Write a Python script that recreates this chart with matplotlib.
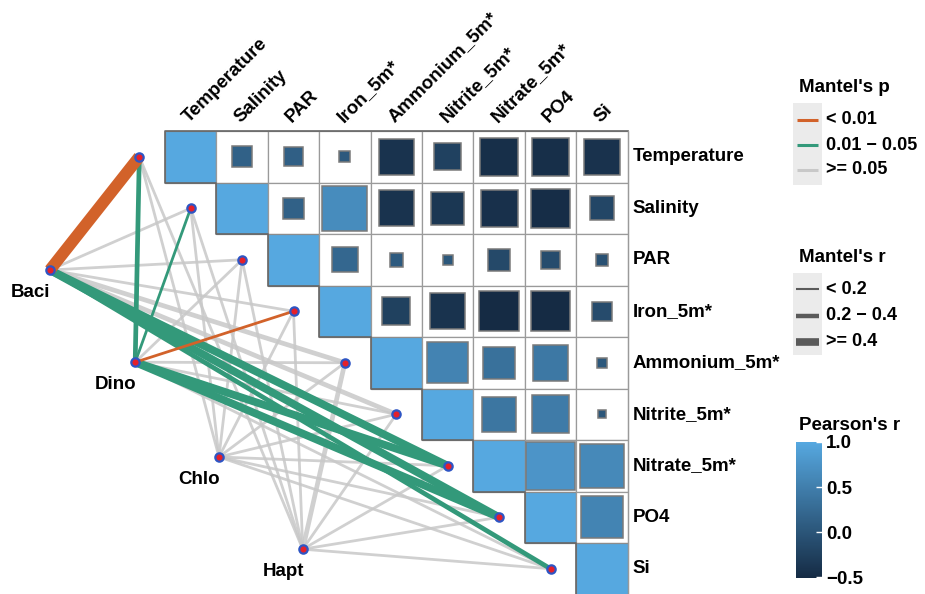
import numpy as np
import matplotlib
matplotlib.use('Agg')
import matplotlib.pyplot as plt
from matplotlib.patches import Rectangle
from matplotlib.colors import LinearSegmentedColormap, Normalize
from matplotlib.cm import ScalarMappable

plt.rcParams['font.family'] = ['Liberation Sans', 'DejaVu Sans']
plt.rcParams['font.weight'] = 'bold'

# 환경변수 / 분류군
env = ['Temperature', 'Salinity', 'PAR', 'Iron_5m*', 'Ammonium_5m*',
       'Nitrite_5m*', 'Nitrate_5m*', 'PO4', 'Si']
spec = ['Baci', 'Dino', 'Chlo', 'Hapt']

# Pearson's r (대각선 오른쪽 상삼각만)
r_temp = [0.14, 0.12, 0.04, -0.41, -0.24, -0.46, -0.46, -0.42]
r_sal = [0.14, 0.66, -0.41, -0.36, -0.44, -0.48, -0.18]
r_par = [0.21, 0.06, 0.03, -0.15, -0.11, -0.05]
r_iron = [-0.25, -0.41, -0.51, -0.51, -0.12]
r_amm = [0.55, 0.33, 0.42, 0.03]
r_nitrite = [0.39, 0.46, 0.02]
r_nitrate = [0.76, 0.62]
r_po4 = [0.56]

# Mantel p 구간 (0: <0.01, 1: 0.01-0.05, 2: >=0.05), Mantel r 구간 (0: <0.2, 1: 0.2-0.4, 2: >=0.4)
baci_p = [0, 2, 2, 2, 2, 2, 1, 1, 1]
baci_r = [2, 0, 0, 0, 1, 1, 2, 2, 1]
dino_p = [1, 1, 2, 0, 2, 2, 1, 1, 2]
dino_r = [1, 0, 0, 0, 0, 0, 2, 2, 0]
chlo_p = [2, 2, 2, 2, 2, 2, 2, 2, 2]
chlo_r = [0, 0, 0, 0, 0, 0, 0, 0, 0]
hapt_p = [2, 2, 2, 2, 2, 2, 2, 2, 2]
hapt_r = [0, 0, 0, 0, 1, 0, 0, 0, 0]

p_labels = ['< 0.01', '0.01 \u2212 0.05', '>= 0.05']
r_labels = ['< 0.2', '0.2 \u2212 0.4', '>= 0.4']
p_colors = ['#D2622A', '#33997A', '#C8C8C8']
r_widths = [2.0, 3.4, 5.6]

upper = [r_temp, r_sal, r_par, r_iron, r_amm, r_nitrite, r_nitrate, r_po4]
mantel_p = [baci_p, dino_p, chlo_p, hapt_p]
mantel_r = [baci_r, dino_r, chlo_r, hapt_r]

# 분류군 노드 위치 (셀 단위)
spec_x = [-2.24, -0.58, 1.05, 2.68]
spec_y = [2.70, 4.49, 6.33, 8.12]

cmap = LinearSegmentedColormap.from_list('gg', ['#152B44', '#56A8E0'])
norm = Normalize(vmin=-0.51, vmax=1.0)

W, H = 925, 594
cw, ch = 51.4, 51.5
x0, y0 = 165, 131

fig = plt.figure(figsize=(W / 100, H / 100), dpi=100)
ax = fig.add_axes([0, 0, 1, 1])
ax.set_xlim(-x0 / cw, (W - x0) / cw)
ax.set_ylim((H - y0) / ch, -y0 / ch)
ax.axis('off')

n = len(env)

# 셀 + 사각형
for i in range(n):
    for j in range(i, n):
        if i == j:
            ax.add_patch(Rectangle((j, i), 1, 1, facecolor=cmap(norm(1.0)),
                                   edgecolor='#8c8c8c', lw=0.9, zorder=2))
        else:
            ax.add_patch(Rectangle((j, i), 1, 1, facecolor='white',
                                   edgecolor='#9a9a9a', lw=0.9, zorder=2))
            r = upper[i][j - i - 1]
            s = min(1.0, 1.08 * np.sqrt(abs(r)))
            ax.add_patch(Rectangle((j + 0.5 - s / 2, i + 0.5 - s / 2), s, s,
                                   facecolor=cmap(norm(r)), edgecolor='#7a7a7a',
                                   lw=1.1, zorder=3))

# 계단 모양 외곽선
stx, sty = [n], [0]
stx.append(0); sty.append(0)
for i in range(n):
    stx += [i, i + 1]
    sty += [i + 1, i + 1]
ax.plot(stx, sty, color='#666666', lw=1.2, zorder=4, solid_capstyle='projecting')
ax.plot([n, n], [0, n], color='#9a9a9a', lw=0.9, zorder=4)

# 행 라벨 / 열 라벨
for i, name in enumerate(env):
    ax.text(n + 0.1, i + 0.5, name, fontsize=13.5, fontweight='bold',
            ha='left', va='center')
    ax.text(i + 0.52, -0.1, name, fontsize=13.5, fontweight='bold', rotation=45,
            rotation_mode='anchor', ha='left', va='bottom')

# Mantel 연결선
env_x = [i - 0.5 for i in range(n)]
env_y = [i + 0.5 for i in range(n)]
for level in [2, 1, 0]:
    for k in range(len(spec)):
        for i in range(n):
            if mantel_p[k][i] != level:
                continue
            lw = r_widths[mantel_r[k][i]]
            if level == 0 and mantel_r[k][i] == 2:
                lw = 8.5
            ax.plot([spec_x[k], env_x[i]], [spec_y[k], env_y[i]],
                    color=p_colors[level], lw=lw,
                    alpha=0.85 if level == 2 else 1.0,
                    solid_capstyle='butt', zorder=5)

ax.plot(env_x, env_y, 'o', ms=6, mfc='#E5202A', mec='#2E55C4', mew=1.6,
        ls='none', zorder=6)
ax.plot(spec_x, spec_y, 'o', ms=6, mfc='#E5202A', mec='#2E55C4', mew=1.6,
        ls='none', zorder=6)
for k, name in enumerate(spec):
    ax.text(spec_x[k] - 0.38, spec_y[k] + 0.44, name, fontsize=13.5,
            fontweight='bold', ha='center', va='center', zorder=7)

# 범례 (픽셀 좌표)
lg = fig.add_axes([0, 0, 1, 1])
lg.set_xlim(0, W)
lg.set_ylim(H, 0)
lg.axis('off')
lg.patch.set_alpha(0)

lg.text(799, 87, "Mantel's p", fontsize=13.5, fontweight='bold', ha='left', va='center')
lg.add_patch(Rectangle((793, 103), 29, 82, facecolor='#EBEBEB', edgecolor='none'))
for k, yy in enumerate([120, 145, 170]):
    lg.plot([797, 818], [yy, yy], color=p_colors[k], lw=2.2, solid_capstyle='butt')
    lg.text(826, yy, p_labels[k], fontsize=13, fontweight='bold', ha='left', va='center')

lg.text(799, 257, "Mantel's r", fontsize=13.5, fontweight='bold', ha='left', va='center')
lg.add_patch(Rectangle((793, 273), 29, 82, facecolor='#EBEBEB', edgecolor='none'))
for k, yy in enumerate([289, 316, 342]):
    lg.plot([796, 819], [yy, yy], color='#5a5a5a', lw=[1.5, 3.2, 5.5][k],
            solid_capstyle='butt')
    lg.text(826, yy, r_labels[k], fontsize=13, fontweight='bold', ha='left', va='center')

lg.text(799, 425, "Pearson's r", fontsize=13.5, fontweight='bold', ha='left', va='center')

cax = fig.add_axes([796 / W, (H - 578) / H, 26 / W, 136 / H])
sm = ScalarMappable(norm=norm, cmap=cmap)
cb = fig.colorbar(sm, cax=cax, ticks=[1.0, 0.5, 0.0, -0.5])
cb.outline.set_visible(False)
cb.ax.set_yticklabels(['1.0', '0.5', '0.0', '\u22120.5'])
cb.ax.tick_params(length=4, width=1, color='white', direction='in', pad=3)
for t in cb.ax.get_yticklabels():
    t.set_fontsize(13.5)
    t.set_fontweight('bold')

fig.savefig('out.png', dpi=100)
